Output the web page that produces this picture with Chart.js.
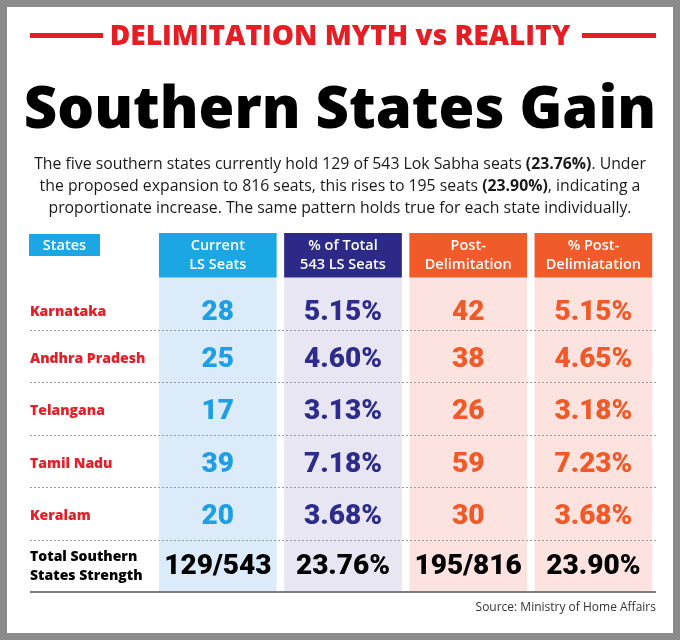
<!DOCTYPE html>
<html>
<head>
<meta charset="utf-8">
<script src="https://cdn.jsdelivr.net/npm/chart.js@4.4.1/dist/chart.umd.min.js"></script>
<style>
  html, body { margin: 0; padding: 0; background: #fff; }
  #page { position: relative; width: 680px; height: 640px; overflow: hidden; background: #fff; }
  #frame { position: absolute; left: 0; top: 0; width: 680px; height: 640px; box-sizing: border-box;
    border: 7px solid #8b8b8b; pointer-events: none; z-index: 5; }
  #chart { position: absolute; left: 0; top: 0; }
  .rule { position: absolute; height: 5px; background: #e31e24; top: 33px; }
  #kicker { position: absolute; top: 15px; left: 0; width: 680px; text-align: center; line-height: 1.362;
    font: 800 28px "Open Sans", sans-serif; color: #e31e24; }
  #title { position: absolute; top: 66px; left: 0; width: 680px; text-align: center; line-height: 1.362;
    font: 800 58px "Open Sans", sans-serif; color: #000; }
  #lede { position: absolute; top: 152px; left: 0; width: 680px; text-align: center;
    font: 400 15.8px "Open Sans", sans-serif; line-height: 22px; color: #1a1a1a; }
  #lede b { font-weight: 700; }
  #source { position: absolute; top: 598px; right: 24px; font: 400 12px "Open Sans", sans-serif; color: #333; }
</style>
</head>
<body>
<div id="page">
  <canvas id="chart" width="680" height="640"></canvas>
  <div class="rule" style="left:30px;width:73px"></div>
  <div class="rule" style="left:582px;width:74px"></div>
  <div id="kicker">DELIMITATION MYTH vs REALITY</div>
  <div id="title">Southern States Gain</div>
  <div id="lede">The five southern states currently hold 129 of 543 Lok Sabha seats <b>(23.76%)</b>. Under<br>the proposed expansion to 816 seats, this rises to 195 seats <b>(23.90%)</b>, indicating a<br>proportionate increase. The same pattern holds true for each state individually.</div>
  <div id="source">Source: Ministry of Home Affairs</div>
  <div id="frame"></div>
</div>
<script>
// table data
const columnKeys = ['States', 'Current LS Seats', '% of Total 543 LS Seats', 'Post-Delimitation', '% Post-Delimiatation'];
const columnHeads = [['Current', 'LS Seats'], ['% of Total', '543 LS Seats'], ['Post-', 'Delimitation'], ['% Post-', 'Delimiatation']];
const states = ['Karnataka', 'Andhra Pradesh', 'Telangana', 'Tamil Nadu', 'Keralam'];
const currentSeats = [28, 25, 17, 39, 20];
const currentShare = [5.15, 4.60, 3.13, 7.18, 3.68];
const postSeats = [42, 38, 26, 59, 30];
const postShare = [5.15, 4.65, 3.18, 7.23, 3.68];
const totalLabel = ['Total Southern', 'States Strength'];
const totals = ['129/543', '23.76%', '195/816', '23.90%'];

const HEAD_TOP = -0.85;
const nRows = states.length + 1;

const headColors = ['#1ba7e4', '#2c2a86', '#f15a29', '#f15a29'];
const bodyColors = ['#dbebfa', '#e7e6f2', '#fce3e0', '#fce3e0'];
const valueColors = ['#1e9fe3', '#2e2c8a', '#f05a28', '#f05a28'];

const pct = v => v.toFixed(2) + '%';
const cellText = [currentSeats.map(String), currentShare.map(pct), postSeats.map(String), postShare.map(pct)];

const tablePlugin = {
  id: 'tableText',
  afterDatasetsDraw(chart) {
    const ctx = chart.ctx;
    const x = chart.scales.x, y = chart.scales.y;
    const left = chart.chartArea.left, right = chart.chartArea.right;
    ctx.save();
    ctx.textBaseline = 'middle';

    // States tag
    const hTop = y.getPixelForValue(HEAD_TOP);
    ctx.fillStyle = '#1ba7e4';
    ctx.fillRect(left - 1, hTop + 1, 71, 22);
    ctx.fillStyle = '#fff';
    ctx.font = '600 14.5px "Open Sans", sans-serif';
    ctx.textAlign = 'center';
    ctx.fillText(columnKeys[0], left + 34.5, hTop + 12.5);

    // column heads
    const hMid = y.getPixelForValue(HEAD_TOP / 2);
    columnHeads.forEach((lines, i) => {
      const cx = x.getPixelForValue(i + 1);
      ctx.fillText(lines[0], cx, hMid - 9);
      ctx.fillText(lines[1], cx, hMid + 10);
    });

    // dotted row rules
    ctx.strokeStyle = '#9a9a9a';
    ctx.lineWidth = 1;
    ctx.setLineDash([2, 2]);
    for (let r = 1; r < nRows; r++) {
      const py = Math.round(y.getPixelForValue(r)) + 0.5;
      ctx.beginPath(); ctx.moveTo(left, py); ctx.lineTo(right, py); ctx.stroke();
    }
    ctx.setLineDash([]);
    ctx.strokeStyle = '#7d7d7d';
    ctx.lineWidth = 2;
    const by = y.getPixelForValue(nRows);
    ctx.beginPath(); ctx.moveTo(left, by); ctx.lineTo(right, by); ctx.stroke();

    // body rows
    states.forEach((s, r) => {
      const cy = y.getPixelForValue(r + (r === 0 ? 0.65 : 0.55));
      ctx.textAlign = 'left';
      ctx.fillStyle = '#e3202a';
      ctx.font = '800 14px "Open Sans", sans-serif';
      ctx.fillText(s, left, cy);
      ctx.textAlign = 'center';
      ctx.font = '900 28px Roboto, sans-serif';
      cellText.forEach((col, c) => {
        ctx.fillStyle = valueColors[c];
        ctx.fillText(col[r], x.getPixelForValue(c + 1), cy + 1);
      });
    });

    // total row
    const ty = y.getPixelForValue(nRows - 0.5);
    ctx.textAlign = 'left';
    ctx.fillStyle = '#000';
    ctx.font = '800 14px "Open Sans", sans-serif';
    ctx.fillText(totalLabel[0], left, ty - 9);
    ctx.fillText(totalLabel[1], left, ty + 10);
    ctx.textAlign = 'center';
    ctx.font = '900 28px Roboto, sans-serif';
    totals.forEach((t, c) => ctx.fillText(t, x.getPixelForValue(c + 1), ty + 1));
    ctx.restore();
  }
};

new Chart(document.getElementById('chart'), {
  type: 'bar',
  data: {
    labels: columnKeys,
    datasets: [
      {
        label: 'head',
        data: [null, [HEAD_TOP, 0], [HEAD_TOP, 0], [HEAD_TOP, 0], [HEAD_TOP, 0]],
        backgroundColor: ['transparent'].concat(headColors),
        grouped: false,
        categoryPercentage: 1,
        barPercentage: 0.94
      },
      {
        label: 'body',
        data: [null, [0, nRows], [0, nRows], [0, nRows], [0, nRows]],
        backgroundColor: ['transparent'].concat(bodyColors),
        grouped: false,
        categoryPercentage: 1,
        barPercentage: 0.94
      }
    ]
  },
  options: {
    responsive: false,
    animation: false,
    layout: { padding: { left: 30, right: 24, top: 233, bottom: 48 } },
    scales: {
      x: { display: false },
      y: { display: false, reverse: true, min: HEAD_TOP, max: nRows }
    },
    plugins: { legend: { display: false }, tooltip: { enabled: false } }
  },
  plugins: [tablePlugin]
});
</script>
</body>
</html>
